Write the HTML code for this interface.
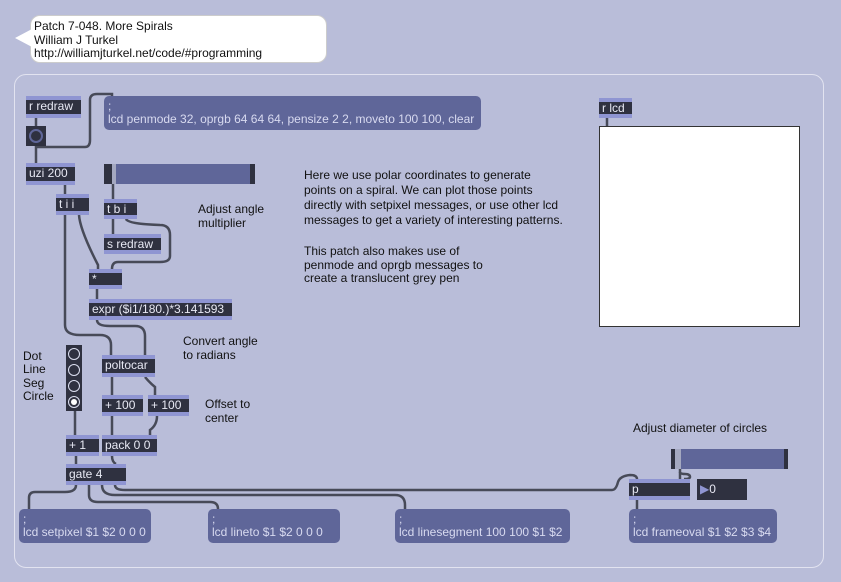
<!DOCTYPE html>
<html><head><meta charset="utf-8"><style>
body{margin:0;width:841px;height:582px;background:#b9bdd9;position:relative;overflow:hidden;font-family:"Liberation Sans",sans-serif;font-size:12px}
.a{position:absolute;box-sizing:border-box}
.o{position:absolute;box-sizing:border-box;background:#2f3140;border-top:4px solid #8f95d2;border-bottom:4px solid #8f95d2;color:#e8e9f4;padding-left:3px;line-height:13px;white-space:nowrap}
.m{position:absolute;box-sizing:border-box;background:#5f6699;border-radius:5px;color:#d8daf0;padding:4px 0 0 4px;line-height:13px;white-space:nowrap;font-size:12px}
.c{position:absolute;color:#111;line-height:13px;white-space:nowrap}
.rb{position:absolute;width:12px;height:12px;border-radius:50%;border:1.5px solid #dcdff0;box-sizing:border-box;left:2px}
</style></head><body>
<div class="a" style="left:30px;top:15px;width:297px;height:48px;background:#fff;border-radius:10px;border:1px solid #ccc"></div>
<svg class="a" style="left:0;top:0" width="841" height="582"><polygon points="15,38 32,29 32,47" fill="#fff"/></svg>
<div class="c" style="left:34px;top:20px;line-height:13.5px">Patch 7-048. More Spirals<br>William J Turkel<br>http://williamjturkel.net/code/#programming</div>
<div class="a" style="left:14px;top:74px;width:810px;height:494px;border:1.5px solid #e2e3f0;border-radius:12px"></div>

<svg class="a" style="left:0;top:0" width="841" height="582" fill="none" stroke="#474a58" stroke-width="2.5">
<path d="M36,118 V126"/>
<path d="M36,146 V163"/>
<path d="M36,147 H85 Q90,147 90,140 V100 Q90,94 97,94 H112 V96"/>
<path d="M65,185 V194"/>
<path d="M113,184 V199"/>
<path d="M113,219 V234"/>
<path d="M126,219 Q128,224 160,225 Q170,225 170,235 V256 Q170,262 160,262 H118 Q112,262 112,269"/>
<path d="M79,215 Q80,230 98,265 V269"/>
<path d="M65,215 V325 Q65,335 80,335 H100 Q111,335 111,345 V355"/>
<path d="M97,289 V299"/>
<path d="M97,320 Q97,326 110,326 H135 Q145,326 145,336 V355"/>
<path d="M112,377 V395"/>
<path d="M145,377 Q150,383 155,387 V395"/>
<path d="M112,416 V435"/>
<path d="M157,416 Q157,425 150,430 V435"/>
<path d="M75,411 V435"/>
<path d="M76,456 V464"/>
<path d="M112,456 Q112,462 116,464"/>
<path d="M76,485 Q76,492 65,492 H35 Q29,492 29,498 V509"/>
<path d="M89,485 V495 Q89,502 98,502 H210 Q218,502 218,509"/>
<path d="M102,485 Q102,495 115,495 H395 Q405,495 405,505 V509"/>
<path d="M115,485 Q115,490 125,490 H612 Q616,490 618,482 Q620,476 630,475 Q637,475 637,479"/>
<path d="M680,469 V472 Q680,474 685,474 Q690,474 690,477 Q690,479 684,479"/>
<path d="M680,472 V479"/>
<path d="M637,500 V509"/>
<path d="M607,118 V126"/>
</svg>

<div class="o" style="left:26px;top:96px;width:55px;height:22px">r redraw</div>
<div class="a" style="left:26px;top:126px;width:20px;height:20px;background:#2f3140"><div class="a" style="left:3px;top:3px;width:14px;height:14px;border-radius:50%;border:2px solid #5f6699"></div></div>
<div class="m" style="left:104px;top:96px;width:377px;height:34px">;<br>lcd penmode 32, oprgb 64 64 64, pensize 2 2, moveto 100 100, clear</div>
<div class="o" style="left:26px;top:163px;width:49px;height:22px">uzi 200</div>
<div class="a" style="left:104px;top:164px;width:151px;height:20px;background:#5f6699;border-left:8px solid #2f3140;border-right:5px solid #2f3140"><div class="a" style="left:0;top:0;width:4px;height:20px;background:#a4a8c0"></div></div>
<div class="o" style="left:56px;top:194px;width:33px;height:21px">t i i</div>
<div class="o" style="left:104px;top:199px;width:33px;height:20px">t b i</div>
<div class="o" style="left:104px;top:234px;width:57px;height:20px">s redraw</div>
<div class="o" style="left:89px;top:269px;width:33px;height:20px">*</div>
<div class="o" style="left:89px;top:299px;width:143px;height:21px">expr ($i1/180.)*3.141593</div>
<div class="c" style="left:198px;top:203px;line-height:13.5px">Adjust angle<br>multiplier</div>
<div class="c" style="left:304px;top:168px;line-height:15px">Here we use polar coordinates to generate<br>points on a spiral. We can plot those points<br>directly with setpixel messages, or use other lcd<br>messages to get a variety of interesting patterns.</div>
<div class="c" style="left:304px;top:245px;line-height:13.5px">This patch also makes use of<br>penmode and oprgb messages to<br>create a translucent grey pen</div>
<div class="o" style="left:599px;top:98px;width:33px;height:20px">r lcd</div>
<div class="a" style="left:599px;top:126px;width:201px;height:201px;background:#fff;border:1px solid #333"></div>
<div class="c" style="left:183px;top:335px;line-height:13.5px">Convert angle<br>to radians</div>
<div class="c" style="left:23px;top:350px;line-height:13.3px">Dot<br>Line<br>Seg<br>Circle</div>
<div class="a" style="left:66px;top:345px;width:16px;height:66px;background:#2f3140">
<div class="rb" style="top:3px"></div><div class="rb" style="top:19px"></div><div class="rb" style="top:35px"></div><div class="rb" style="top:51px"><div class="a" style="left:2px;top:2px;width:6px;height:6px;border-radius:50%;background:#fff"></div></div></div>
<div class="o" style="left:102px;top:355px;width:53px;height:22px">poltocar</div>
<div class="o" style="left:102px;top:395px;width:41px;height:21px">+ 100</div>
<div class="o" style="left:148px;top:395px;width:41px;height:21px">+ 100</div>
<div class="c" style="left:205px;top:398px;line-height:13.5px">Offset to<br>center</div>
<div class="o" style="left:66px;top:435px;width:33px;height:21px">+ 1</div>
<div class="o" style="left:102px;top:435px;width:55px;height:21px">pack 0 0</div>
<div class="o" style="left:66px;top:464px;width:60px;height:21px">gate 4</div>
<div class="m" style="left:19px;top:509px;width:132px;height:34px">;<br>lcd setpixel $1 $2 0 0 0</div>
<div class="m" style="left:208px;top:509px;width:132px;height:34px">;<br>lcd lineto $1 $2 0 0 0</div>
<div class="m" style="left:395px;top:509px;width:175px;height:34px">;<br>lcd linesegment 100 100 $1 $2</div>
<div class="m" style="left:629px;top:509px;width:148px;height:34px">;<br>lcd frameoval $1 $2 $3 $4</div>
<div class="c" style="left:633px;top:422px">Adjust diameter of circles</div>
<div class="a" style="left:671px;top:449px;width:117px;height:20px;background:#5f6699;border-left:4px solid #2f3140;border-right:4px solid #2f3140"><div class="a" style="left:0;top:0;width:6px;height:20px;background:#a4a8c0"></div></div>
<div class="o" style="left:629px;top:479px;width:61px;height:21px">p</div>
<div class="a" style="left:697px;top:479px;width:50px;height:21px;background:#2f3140;color:#e8e9f4;padding:3px 0 0 3px;line-height:14px"><span style="color:#8f95d2">&#9654;</span>0</div>
</body></html>
